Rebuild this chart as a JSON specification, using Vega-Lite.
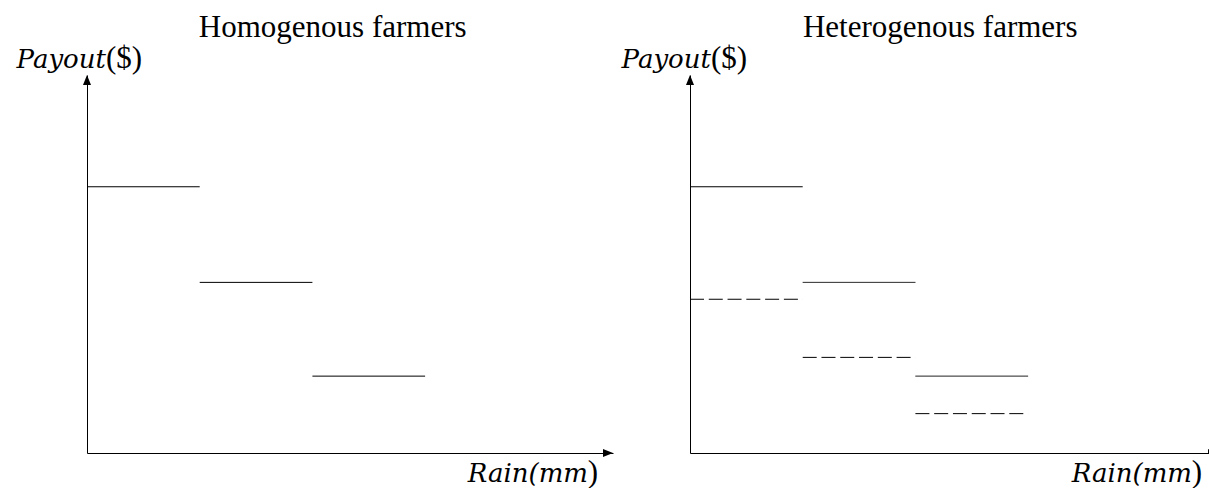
{
  "$schema": "https://vega.github.io/schema/vega-lite/v6.json",
  "background": "white",
  "padding": {"left": 16, "top": 12, "right": 0, "bottom": 0},
  "autosize": {"type": "pad"},
  "bounds": "flush",
  "spacing": 77,
  "config": {
    "view": {"stroke": null},
    "font": "Liberation Serif",
    "axis": {"labels": false, "ticks": false, "grid": false, "title": null, "domain": true, "domainColor": "black", "domainWidth": 1}
  },
  "datasets": {
    "homogenous": [
      {"rain_start": 0, "rain_end": 1, "payout": 7.1, "contract": "solid"},
      {"rain_start": 1, "rain_end": 2, "payout": 4.55, "contract": "solid"},
      {"rain_start": 2, "rain_end": 3, "payout": 2.05, "contract": "solid"}
    ],
    "heterogenous": [
      {"rain_start": 0, "rain_end": 1, "payout": 7.1, "contract": "solid"},
      {"rain_start": 1, "rain_end": 2, "payout": 4.55, "contract": "solid"},
      {"rain_start": 2, "rain_end": 3, "payout": 2.05, "contract": "solid"},
      {"rain_start": 0, "rain_end": 1, "payout": 4.1, "contract": "dashed"},
      {"rain_start": 1, "rain_end": 2, "payout": 2.55, "contract": "dashed"},
      {"rain_start": 2, "rain_end": 3, "payout": 1.05, "contract": "dashed"}
    ]
  },
  "hconcat": [
    {
      "width": 526,
      "height": 378,
      "layer": [
        {
          "data": {"name": "homogenous"},
          "mark": {"type": "rule", "color": "black", "strokeWidth": 1},
          "encoding": {
            "x": {"field": "rain_start", "type": "quantitative", "scale": {"domain": [0, 4.667], "nice": false, "zero": false}, "axis": {"orient": "bottom"}},
            "x2": {"field": "rain_end"},
            "y": {"field": "payout", "type": "quantitative", "scale": {"domain": [0, 10.08], "nice": false, "zero": false}, "axis": {"orient": "left"}}
          }
        },
        {
          "data": {"values": [{}]},
          "mark": {"type": "point", "shape": "M0,0L0.4,1L-0.4,1Z", "size": 400, "filled": true, "color": "black", "opacity": 1, "strokeWidth": 0},
          "encoding": {"x": {"datum": 0, "type": "quantitative"}, "y": {"datum": 10.08, "type": "quantitative"}}
        },
        {
          "data": {"values": [{}]},
          "mark": {"type": "point", "shape": "M0,0L-1,-0.4L-1,0.4Z", "size": 400, "filled": true, "color": "black", "opacity": 1, "strokeWidth": 0},
          "encoding": {"x": {"datum": 4.667, "type": "quantitative"}, "y": {"datum": 0, "type": "quantitative"}}
        },
        {
          "data": {"values": [{}]},
          "mark": {"type": "text", "text": "Homogenous farmers", "fontSize": 31, "align": "center", "baseline": "alphabetic", "color": "black"},
          "encoding": {"x": {"datum": 2.18, "type": "quantitative"}, "y": {"datum": 11.09, "type": "quantitative"}}
        },
        {
          "data": {"values": [{}]},
          "mark": {"type": "text", "text": "Payout", "font": "DejaVu Serif", "fontSize": 26, "fontStyle": "italic", "align": "right", "baseline": "alphabetic", "color": "black"},
          "encoding": {"x": {"datum": 0.168, "type": "quantitative"}, "y": {"datum": 10.27, "type": "quantitative"}}
        },
        {
          "data": {"values": [{}]},
          "mark": {"type": "text", "text": "($)", "fontSize": 31, "align": "left", "baseline": "alphabetic", "color": "black"},
          "encoding": {"x": {"datum": 0.168, "type": "quantitative"}, "y": {"datum": 10.27, "type": "quantitative"}}
        },
        {
          "data": {"values": [{}]},
          "mark": {"type": "text", "text": "Rain(mm", "font": "DejaVu Serif", "fontSize": 26, "fontStyle": "italic", "align": "right", "baseline": "alphabetic", "dx": -10, "color": "black"},
          "encoding": {"x": {"datum": 4.534, "type": "quantitative"}, "y": {"datum": -0.773, "type": "quantitative"}}
        },
        {
          "data": {"values": [{}]},
          "mark": {"type": "text", "text": ")", "fontSize": 31, "align": "right", "baseline": "alphabetic", "color": "black"},
          "encoding": {"x": {"datum": 4.534, "type": "quantitative"}, "y": {"datum": -0.773, "type": "quantitative"}}
        }
      ]
    },
    {
      "width": 519,
      "height": 378,
      "layer": [
        {
          "data": {"name": "heterogenous"},
          "mark": {"type": "rule", "color": "black", "strokeWidth": 1},
          "encoding": {
            "x": {"field": "rain_start", "type": "quantitative", "scale": {"domain": [0, 4.605], "nice": false, "zero": false}, "axis": {"orient": "bottom"}},
            "x2": {"field": "rain_end"},
            "y": {"field": "payout", "type": "quantitative", "scale": {"domain": [0, 10.08], "nice": false, "zero": false}, "axis": {"orient": "left"}},
            "strokeDash": {"field": "contract", "type": "nominal", "scale": {"domain": ["solid", "dashed"], "range": [[1, 0], [14, 4.78]]}, "legend": null}
          }
        },
        {
          "data": {"values": [{}]},
          "mark": {"type": "point", "shape": "M0,0L0.4,1L-0.4,1Z", "size": 400, "filled": true, "color": "black", "opacity": 1, "strokeWidth": 0},
          "encoding": {"x": {"datum": 0, "type": "quantitative"}, "y": {"datum": 10.08, "type": "quantitative"}}
        },
        {
          "data": {"values": [{}]},
          "mark": {"type": "point", "shape": "M0,0L-1,-0.4L-1,0.4Z", "size": 400, "filled": true, "color": "black", "opacity": 1, "strokeWidth": 0, "clip": true},
          "encoding": {"x": {"datum": 4.685, "type": "quantitative"}, "y": {"datum": 0, "type": "quantitative"}}
        },
        {
          "data": {"values": [{}]},
          "mark": {"type": "text", "text": "Heterogenous farmers", "fontSize": 31, "align": "center", "baseline": "alphabetic", "color": "black"},
          "encoding": {"x": {"datum": 2.22, "type": "quantitative"}, "y": {"datum": 11.09, "type": "quantitative"}}
        },
        {
          "data": {"values": [{}]},
          "mark": {"type": "text", "text": "Payout", "font": "DejaVu Serif", "fontSize": 26, "fontStyle": "italic", "align": "right", "baseline": "alphabetic", "color": "black"},
          "encoding": {"x": {"datum": 0.186, "type": "quantitative"}, "y": {"datum": 10.27, "type": "quantitative"}}
        },
        {
          "data": {"values": [{}]},
          "mark": {"type": "text", "text": "($)", "fontSize": 31, "align": "left", "baseline": "alphabetic", "color": "black"},
          "encoding": {"x": {"datum": 0.186, "type": "quantitative"}, "y": {"datum": 10.27, "type": "quantitative"}}
        },
        {
          "data": {"values": [{}]},
          "mark": {"type": "text", "text": "Rain(mm", "font": "DejaVu Serif", "fontSize": 26, "fontStyle": "italic", "align": "right", "baseline": "alphabetic", "dx": -10, "color": "black"},
          "encoding": {"x": {"datum": 4.543, "type": "quantitative"}, "y": {"datum": -0.773, "type": "quantitative"}}
        },
        {
          "data": {"values": [{}]},
          "mark": {"type": "text", "text": ")", "fontSize": 31, "align": "right", "baseline": "alphabetic", "color": "black"},
          "encoding": {"x": {"datum": 4.543, "type": "quantitative"}, "y": {"datum": -0.773, "type": "quantitative"}}
        }
      ]
    }
  ]
}
